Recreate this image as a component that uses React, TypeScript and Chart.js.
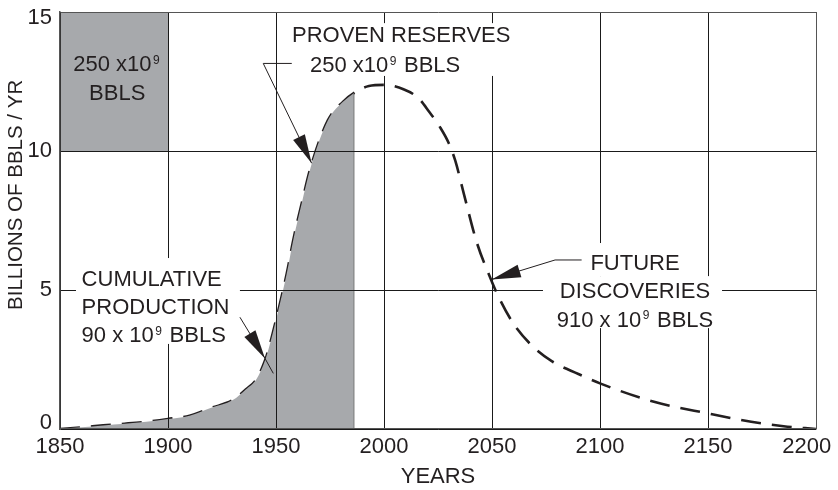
import React, { useEffect, useRef } from 'react';
import { Chart, registerables } from 'chart.js';

Chart.register(...registerables);

// ---------------- data ----------------
const curveYears = [1850, 1860, 1870, 1880, 1890, 1900, 1910, 1920, 1930, 1936, 1941, 1945, 1947, 1950, 1953, 1955, 1958, 1962, 1966, 1974, 1981, 1987, 1993, 2000, 2009, 2016, 2021, 2026, 2030, 2033, 2037, 2043, 2049, 2053, 2060, 2069, 2078, 2090, 2100, 2125, 2150, 2170, 2185, 2200];
const curveValues = [0, 0.06, 0.13, 0.19, 0.26, 0.36, 0.48, 0.76, 1.04, 1.42, 1.8, 2.48, 3.0, 3.92, 4.9, 5.6, 6.8, 8.15, 9.4, 11.1, 11.77, 12.13, 12.34, 12.38, 12.22, 11.9, 11.4, 10.85, 10.28, 9.65, 8.45, 6.7, 5.48, 4.76, 3.78, 2.96, 2.42, 1.98, 1.64, 0.98, 0.56, 0.26, 0.1, 0];

// shaded (produced + proven) area ends here
const shadeEndYear = 1986;
const shadeEndValue = 12.08;

// thin vertical marker inside the shaded area
const markerYear = 1956;
const markerTop = 5.7;

// key box (250 x10^9 BBLS)
const keyBoxYears = [1850, 1900];
const keyBoxRange = [10, 15];

const xTickValues = [1850, 1900, 1950, 2000, 2050, 2100, 2150, 2200];
const yTickValues = [0, 5, 10, 15];
const xTitle = 'YEARS';
const yTitle = 'BILLIONS OF BBLS / YR';

// ---------------- styling ----------------
const INK = '#231f20';
const GREY = '#a7a9ac';
const FONT = "'Liberation Sans', Arial, Helvetica, sans-serif";
const TEXT_SIZE = 22;
const SUP_SIZE = 12;

type Part = { t: string; sup?: boolean };
type Note = { align: 'left' | 'center'; lines: { parts: Part[]; at: [number, number] }[] };

// annotation layout, in data units (year, value)
const NOTES: Note[] = [
  {
    align: 'center',
    lines: [
      { parts: [{ t: '250 x10' }, { t: '9', sup: true }], at: [1876.5, 13.15] },
      { parts: [{ t: 'BBLS' }], at: [1876.5, 12.13] },
    ],
  },
  {
    align: 'left',
    lines: [
      { parts: [{ t: 'PROVEN RESERVES' }], at: [1957.4, 14.2] },
      { parts: [{ t: '250 x10' }, { t: '9', sup: true }, { t: ' BBLS' }], at: [1965.7, 13.13] },
    ],
  },
  {
    align: 'left',
    lines: [
      { parts: [{ t: 'CUMULATIVE' }], at: [1860.0, 5.43] },
      { parts: [{ t: 'PRODUCTION' }], at: [1860.0, 4.42] },
      { parts: [{ t: '90 x 10' }, { t: '9', sup: true }, { t: ' BBLS' }], at: [1860.0, 3.42] },
    ],
  },
  {
    align: 'center',
    lines: [
      { parts: [{ t: 'FUTURE' }], at: [2116.2, 6.02] },
      { parts: [{ t: 'DISCOVERIES' }], at: [2116.2, 5.0] },
      { parts: [{ t: '910 x 10' }, { t: '9', sup: true }, { t: ' BBLS' }], at: [2116.2, 3.97] },
    ],
  },
];

// white knock-out boxes behind labels: [x0, x1, yTop, yBottom]
const LABEL_BOXES: number[][] = [
  [1954.6, 2061.1, 14.6, 12.7],
  [1857.4, 1933.3, 6.15, 3.06],
  [2091.7, 2140.7, 6.69, 5.5],
  [2073.6, 2156.5, 5.5, 3.63],
];

const LEADERS: { path: number[][]; tail?: number[] }[] = [
  { path: [[1957.3, 13.15], [1944.1, 13.15], [1966.5, 9.56]] },
  { path: [[1933.3, 4.02], [1944.9, 2.54]], tail: [1948.75, 2.0] },
  { path: [[2091.5, 6.08], [2079.2, 6.08], [2049.9, 5.38]] },
];

function drawRich(ctx: CanvasRenderingContext2D, parts: Part[], x: number, y: number, align: string) {
  const main = `${TEXT_SIZE}px ${FONT}`;
  const sup = `${SUP_SIZE}px ${FONT}`;
  const widths = parts.map((p) => {
    ctx.font = p.sup ? sup : main;
    return ctx.measureText(p.t).width + (p.sup ? 3 : 0);
  });
  const total = widths.reduce((a, b) => a + b, 0);
  let cx = align === 'center' ? x - total / 2 : x;
  const base = y + 0.358 * TEXT_SIZE;
  ctx.textAlign = 'left';
  ctx.textBaseline = 'alphabetic';
  ctx.fillStyle = INK;
  parts.forEach((p, i) => {
    ctx.font = p.sup ? sup : main;
    const by = p.sup ? base - 0.716 * TEXT_SIZE + 0.716 * SUP_SIZE : base;
    ctx.fillText(p.t, cx + (p.sup ? 1.5 : 0), by);
    cx += widths[i];
  });
}

const annotationPlugin = {
  id: 'oilAnnotations',
  afterDraw(chart: any) {
    const { ctx } = chart;
    const xs = chart.scales.x;
    const ys = chart.scales.y;
    const P = (p: number[]) => [xs.getPixelForValue(p[0]), ys.getPixelForValue(p[1])];
    ctx.save();
    ctx.fillStyle = '#ffffff';
    for (const b of LABEL_BOXES) {
      const [x0, y0] = P([b[0], b[2]]);
      const [x1, y1] = P([b[1], b[3]]);
      ctx.fillRect(x0, y0, x1 - x0, y1 - y0);
    }
    for (const n of NOTES) {
      for (const line of n.lines) {
        const [x, y] = P(line.at);
        drawRich(ctx, line.parts, x, y, n.align);
      }
    }
    ctx.strokeStyle = INK;
    ctx.fillStyle = INK;
    ctx.lineWidth = 1;
    for (const l of LEADERS) {
      const pts = l.path.map(P);
      ctx.beginPath();
      pts.forEach(([x, y], i) => (i ? ctx.lineTo(x, y) : ctx.moveTo(x, y)));
      if (l.tail) {
        const t = P(l.tail);
        ctx.lineTo(t[0], t[1]);
      }
      ctx.stroke();
      const [tx, ty] = pts[pts.length - 1];
      const [fx, fy] = pts[pts.length - 2];
      const ang = Math.atan2(ty - fy, tx - fx);
      const L = 29;
      const W = 6.5;
      const bx = tx - L * Math.cos(ang);
      const by = ty - L * Math.sin(ang);
      ctx.beginPath();
      ctx.moveTo(tx, ty);
      ctx.lineTo(bx + W * Math.sin(ang), by - W * Math.cos(ang));
      ctx.lineTo(bx - W * Math.sin(ang), by + W * Math.cos(ang));
      ctx.closePath();
      ctx.fill();
    }
    ctx.restore();
  },
};

export default function App() {
  const ref = useRef<HTMLCanvasElement | null>(null);

  useEffect(() => {
    if (!ref.current) return;
    const curve = curveYears.map((x, i) => ({ x, y: curveValues[i] }));
    const shade = curve.filter((p) => p.x < shadeEndYear).concat([{ x: shadeEndYear, y: shadeEndValue }]);
    const xMin = xTickValues[0];
    const xMax = xTickValues[xTickValues.length - 1];
    const yMin = yTickValues[0];
    const yMax = yTickValues[yTickValues.length - 1];

    const chart = new Chart(ref.current, {
      type: 'line',
      data: {
        datasets: [
          {
            data: [
              { x: keyBoxYears[0], y: keyBoxRange[1] },
              { x: keyBoxYears[1], y: keyBoxRange[1] },
            ],
            fill: { value: keyBoxRange[0] },
            backgroundColor: GREY,
            borderWidth: 0,
            pointRadius: 0,
            tension: 0,
          },
          {
            data: shade,
            fill: 'origin',
            backgroundColor: GREY,
            borderWidth: 0,
            pointRadius: 0,
            cubicInterpolationMode: 'monotone',
          },
          {
            data: [
              { x: markerYear, y: 0 },
              { x: markerYear, y: markerTop },
            ],
            borderColor: INK,
            borderWidth: 1,
            pointRadius: 0,
            fill: false,
            tension: 0,
          },
          {
            data: [
              { x: shadeEndYear, y: 0 },
              { x: shadeEndYear, y: shadeEndValue },
            ],
            borderColor: '#555555',
            borderWidth: 1.2,
            pointRadius: 0,
            fill: false,
            tension: 0,
          },
          {
            data: curve,
            borderColor: INK,
            borderWidth: 2.6,
            borderDash: [20, 11],
            borderCapStyle: 'butt',
            pointRadius: 0,
            fill: false,
            cubicInterpolationMode: 'monotone',
          },
        ],
      } as any,
      options: {
        responsive: false,
        animation: false,
        events: [],
        layout: { padding: { left: 0, right: 22, top: 12, bottom: 0 } },
        plugins: { legend: { display: false }, tooltip: { enabled: false } },
        scales: {
          x: {
            type: 'linear',
            min: xMin,
            max: xMax,
            afterBuildTicks: (s: any) => {
              s.ticks = xTickValues.map((value) => ({ value }));
            },
            afterFit: (s: any) => {
              s.height = 61;
              s.paddingLeft = 0;
              s.paddingRight = 0;
            },
            grid: {
              color: (c: any) => (c.tick && c.tick.value === xMax ? '#555555' : '#1a1a1a'),
              lineWidth: 1,
              drawTicks: false,
              z: 1,
            },
            border: { color: '#555555', width: 1.5, z: 1 },
            ticks: {
              autoSkip: false,
              maxRotation: 0,
              minRotation: 0,
              padding: 5,
              color: INK,
              font: { family: FONT, size: TEXT_SIZE },
              callback: (v: any) => (v === xMax ? String(v) + '\u00a0\u00a0\u00a0' : String(v)),
            },
            title: {
              display: true,
              text: xTitle,
              color: INK,
              font: { family: FONT, size: TEXT_SIZE },
              padding: { top: 0, bottom: 0 },
            },
          },
          y: {
            type: 'linear',
            min: yMin,
            max: yMax,
            afterBuildTicks: (s: any) => {
              s.ticks = yTickValues.map((value) => ({ value }));
            },
            afterFit: (s: any) => {
              s.width = 60;
              s.paddingTop = 0;
              s.paddingBottom = 0;
            },
            grid: {
              color: (c: any) => (c.tick && c.tick.value === yMax ? '#555555' : '#1a1a1a'),
              lineWidth: 1,
              drawTicks: false,
              z: 1,
            },
            border: { color: '#555555', width: 1.5, z: 1 },
            ticks: {
              padding: 8,
              color: INK,
              font: { family: FONT, size: TEXT_SIZE, lineHeight: 0.55 },
              callback: (v: any) =>
                v === yMax ? ['', String(v)] : v === yMin ? [String(v), ''] : String(v),
            },
            title: {
              display: true,
              text: '\u00a0'.repeat(9) + yTitle,
              color: INK,
              font: { family: FONT, size: 20.5 },
              padding: { top: 4.4, bottom: 0 },
            },
          },
        },
      } as any,
      plugins: [annotationPlugin],
    });
    return () => chart.destroy();
  }, []);

  return (
    <div style={{ position: 'absolute', left: 0, top: 0, width: 838, height: 490, background: '#fff' }}>
      <canvas ref={ref} width={838} height={490} style={{ display: 'block' }} />
    </div>
  );
}
